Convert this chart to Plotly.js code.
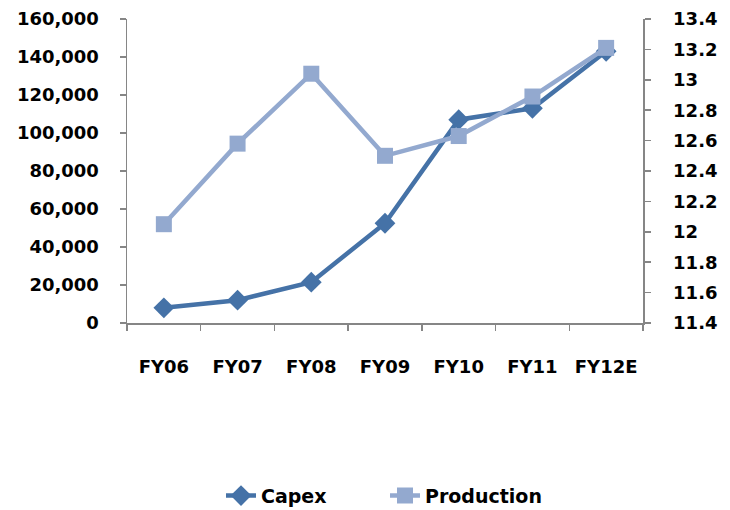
<!DOCTYPE html>
<html>
<head>
<meta charset="utf-8">
<script src="https://cdn.plot.ly/plotly-3.0.1.min.js"></script>
<style>
  html, body { margin: 0; padding: 0; background: #fff; }
  #chart { width: 730px; height: 510px; }
</style>
</head>
<body>
<div id="chart"></div>
<script>
// Fiscal years on the category axis
const years = ["FY06", "FY07", "FY08", "FY09", "FY10", "FY11", "FY12E"];
// Capital expenditure (left axis)
const capex = [8000, 12000, 21500, 52500, 107000, 113000, 143000];
// Production (right axis)
const production = [12.05, 12.58, 13.04, 12.50, 12.63, 12.89, 13.21];

const leftTicks = [0, 20000, 40000, 60000, 80000, 100000, 120000, 140000, 160000];
const leftTickText = ["0", "20,000", "40,000", "60,000", "80,000", "100,000", "120,000", "140,000", "160,000"];
const rightTicks = [11.4, 11.6, 11.8, 12, 12.2, 12.4, 12.6, 12.8, 13, 13.2, 13.4];
const rightTickText = ["11.4", "11.6", "11.8", "12", "12.2", "12.4", "12.6", "12.8", "13", "13.2", "13.4"];

const FONT = "'DejaVu Sans', sans-serif";
const AXIS_GREY = "#868686";
const tickFont = { family: FONT, size: 18, color: "#000", weight: "bold" };

const traces = [
  {
    x: years, y: capex, name: "Capex", type: "scatter", mode: "lines+markers",
    line: { color: "#4572A7", width: 4.5 },
    marker: { symbol: "diamond", size: 16, color: "#4572A7" },
    yaxis: "y"
  },
  {
    x: years, y: production, name: "Production", type: "scatter", mode: "lines+markers",
    line: { color: "#93A9CF", width: 4.5 },
    marker: { symbol: "square", size: 16, color: "#93A9CF" },
    yaxis: "y2"
  }
];

const layout = {
  width: 730, height: 510,
  margin: { l: 127, r: 87, t: 19, b: 187, autoexpand: false },
  paper_bgcolor: "#fff", plot_bgcolor: "#fff",
  font: tickFont,
  showlegend: true,
  legend: {
    orientation: "h", x: 0.5, xanchor: "center",
    yref: "container", y: 0.028, yanchor: "middle",
    font: { family: FONT, size: 19, color: "#000", weight: "bold" },
    traceorder: "normal", entrywidthmode: "pixels", entrywidth: 119
  },
  xaxis: {
    type: "category", showgrid: false, zeroline: false,
    showline: true, linecolor: AXIS_GREY, linewidth: 1.5,
    ticks: "outside", ticklen: 6, tickcolor: AXIS_GREY, tickwidth: 1.5,
    tickson: "boundaries", ticklabelstandoff: 27,
    tickfont: tickFont,
    range: [-0.5, 6.5]
  },
  yaxis: {
    range: [0, 160000], tickvals: leftTicks, ticktext: leftTickText,
    showgrid: false, zeroline: false,
    showline: true, linecolor: AXIS_GREY, linewidth: 1.5,
    ticks: "outside", ticklen: 6, tickcolor: AXIS_GREY, tickwidth: 1.5,
    ticklabelstandoff: 17,
    tickfont: tickFont
  },
  yaxis2: {
    range: [11.4, 13.4], tickvals: rightTicks, ticktext: rightTickText,
    overlaying: "y", side: "right",
    showgrid: false, zeroline: false,
    showline: true, linecolor: AXIS_GREY, linewidth: 1.5,
    ticks: "outside", ticklen: 6, tickcolor: AXIS_GREY, tickwidth: 1.5,
    ticklabelstandoff: 19,
    tickfont: tickFont
  }
};

Plotly.newPlot("chart", traces, layout, { displayModeBar: false, staticPlot: true });
</script>
</body>
</html>
